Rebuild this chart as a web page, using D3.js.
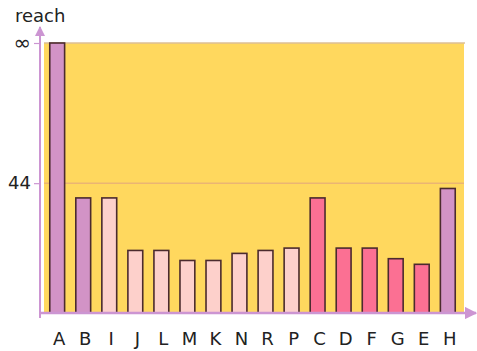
<!DOCTYPE html>
<html>
<head>
<meta charset="utf-8">
<script src="https://cdn.jsdelivr.net/npm/d3@7"></script>
<style>
  html, body { margin: 0; padding: 0; background: #ffffff; }
  svg { display: block; }
</style>
</head>
<body>
<svg id="chart" width="477" height="351"></svg>
<script>
// Nodes along the x axis, in drawing order
const nodes = ["A", "B", "I", "J", "L", "M", "K", "N", "R", "P", "C", "D", "F", "G", "E", "H"];
// Reach of each node (Infinity = unreachable)
const reach = [Infinity, 39, 39, 21.2, 21.2, 17.8, 17.8, 20.2, 21.2, 22, 39, 22, 22, 18.4, 16.5, 42.2];
// Colour group of each node
const group = ["done", "done", "open", "open", "open", "open", "open", "open", "open", "open", "hot", "hot", "hot", "hot", "hot", "done"];
// Labelled ticks on the value axis
const tickValues = [44, Infinity];
const tickLabels = ["44", "∞"];

const yTop = 91.5; // value drawn at the top edge (where ∞ sits)

const colors = { done: "#d293c6", open: "#fdd0cb", hot: "#fb7093" };

const svg = d3.select("#chart");
const margin = { left: 42, right: 13, top: 43, bottom: 38 };
const W = 477, H = 351;
const x0 = margin.left, x1 = W - margin.right;
const y0 = H - margin.bottom, y1 = margin.top;

const x = d3.scaleBand().domain(nodes).range([x0 + 1, x1 - 2]).paddingInner(0.43).paddingOuter(0.26);
const y = d3.scaleLinear().domain([0, yTop]).range([y0, y1]).clamp(true);

// plot background
svg.append("rect")
  .attr("x", x0 + 2).attr("y", y1)
  .attr("width", x1 - x0 - 2).attr("height", y0 - y1)
  .attr("fill", "#ffd85e");

// top border of the plot area
svg.append("line")
  .attr("x1", x0 + 2).attr("x2", x1 + 1)
  .attr("y1", y1).attr("y2", y1)
  .attr("stroke", "#dcbf96").attr("stroke-width", 1.5);

// gridline at the finite tick
tickValues.filter(Number.isFinite).forEach(v => {
  svg.append("line")
    .attr("x1", x0 + 2).attr("x2", x1)
    .attr("y1", y(v)).attr("y2", y(v))
    .attr("stroke", "#ebb573").attr("stroke-width", 1.5);
});

// bars
svg.append("g").selectAll("rect")
  .data(nodes.map((n, i) => ({ n, v: reach[i], g: group[i] })))
  .join("rect")
  .attr("x", d => x(d.n))
  .attr("width", x.bandwidth())
  .attr("y", d => y(d.v))
  .attr("height", d => y0 - y(d.v))
  .attr("fill", d => colors[d.g])
  .attr("stroke", "#4b2b2e")
  .attr("stroke-width", 1.6);

// axes with arrowheads
const axisColor = "#cc95d2";
const defs = svg.append("defs");
defs.append("marker")
  .attr("id", "arrow")
  .attr("viewBox", "0 0 10 10")
  .attr("refX", 9).attr("refY", 5)
  .attr("markerWidth", 5).attr("markerHeight", 5)
  .attr("orient", "auto")
  .append("path").attr("d", "M0,0 L10,5 L0,10 Z").attr("fill", axisColor);

svg.append("line")
  .attr("x1", x0 - 2).attr("x2", x0 - 2)
  .attr("y1", y0 + 5).attr("y2", 27)
  .attr("stroke", axisColor).attr("stroke-width", 2)
  .attr("marker-end", "url(#arrow)");

svg.append("line")
  .attr("x1", x0 - 2).attr("x2", W - 1)
  .attr("y1", y0).attr("y2", y0)
  .attr("stroke", axisColor).attr("stroke-width", 2.5)
  .attr("marker-end", "url(#arrow)");

// value axis ticks and labels
const yAxis = d3.axisLeft(y)
  .tickValues(tickValues)
  .tickFormat((d, i) => tickLabels[i])
  .tickSize(6).tickPadding(3);
const gy = svg.append("g").attr("transform", `translate(${x0 - 2},0)`).call(yAxis);
gy.select(".domain").remove();
gy.selectAll(".tick line").attr("stroke", axisColor).attr("stroke-width", 1.2);
gy.selectAll(".tick text")
  .attr("fill", "#222")
  .style("font-family", "'DejaVu Sans', sans-serif")
  .style("font-size", (d, i) => i === 1 ? "21px" : "18px");

// category axis labels
const xAxis = d3.axisBottom(x).tickSize(0).tickPadding(19);
const gx = svg.append("g").attr("transform", `translate(2,${y0})`).call(xAxis);
gx.select(".domain").remove();
gx.selectAll(".tick text")
  .attr("fill", "#222")
  .style("font-family", "'DejaVu Sans', sans-serif")
  .style("font-size", "18px");

// axis title
svg.append("text")
  .attr("x", 15).attr("y", 22)
  .attr("fill", "#222")
  .style("font-family", "'DejaVu Sans', sans-serif")
  .style("font-size", "18px")
  .text("reach");
</script>
</body>
</html>
